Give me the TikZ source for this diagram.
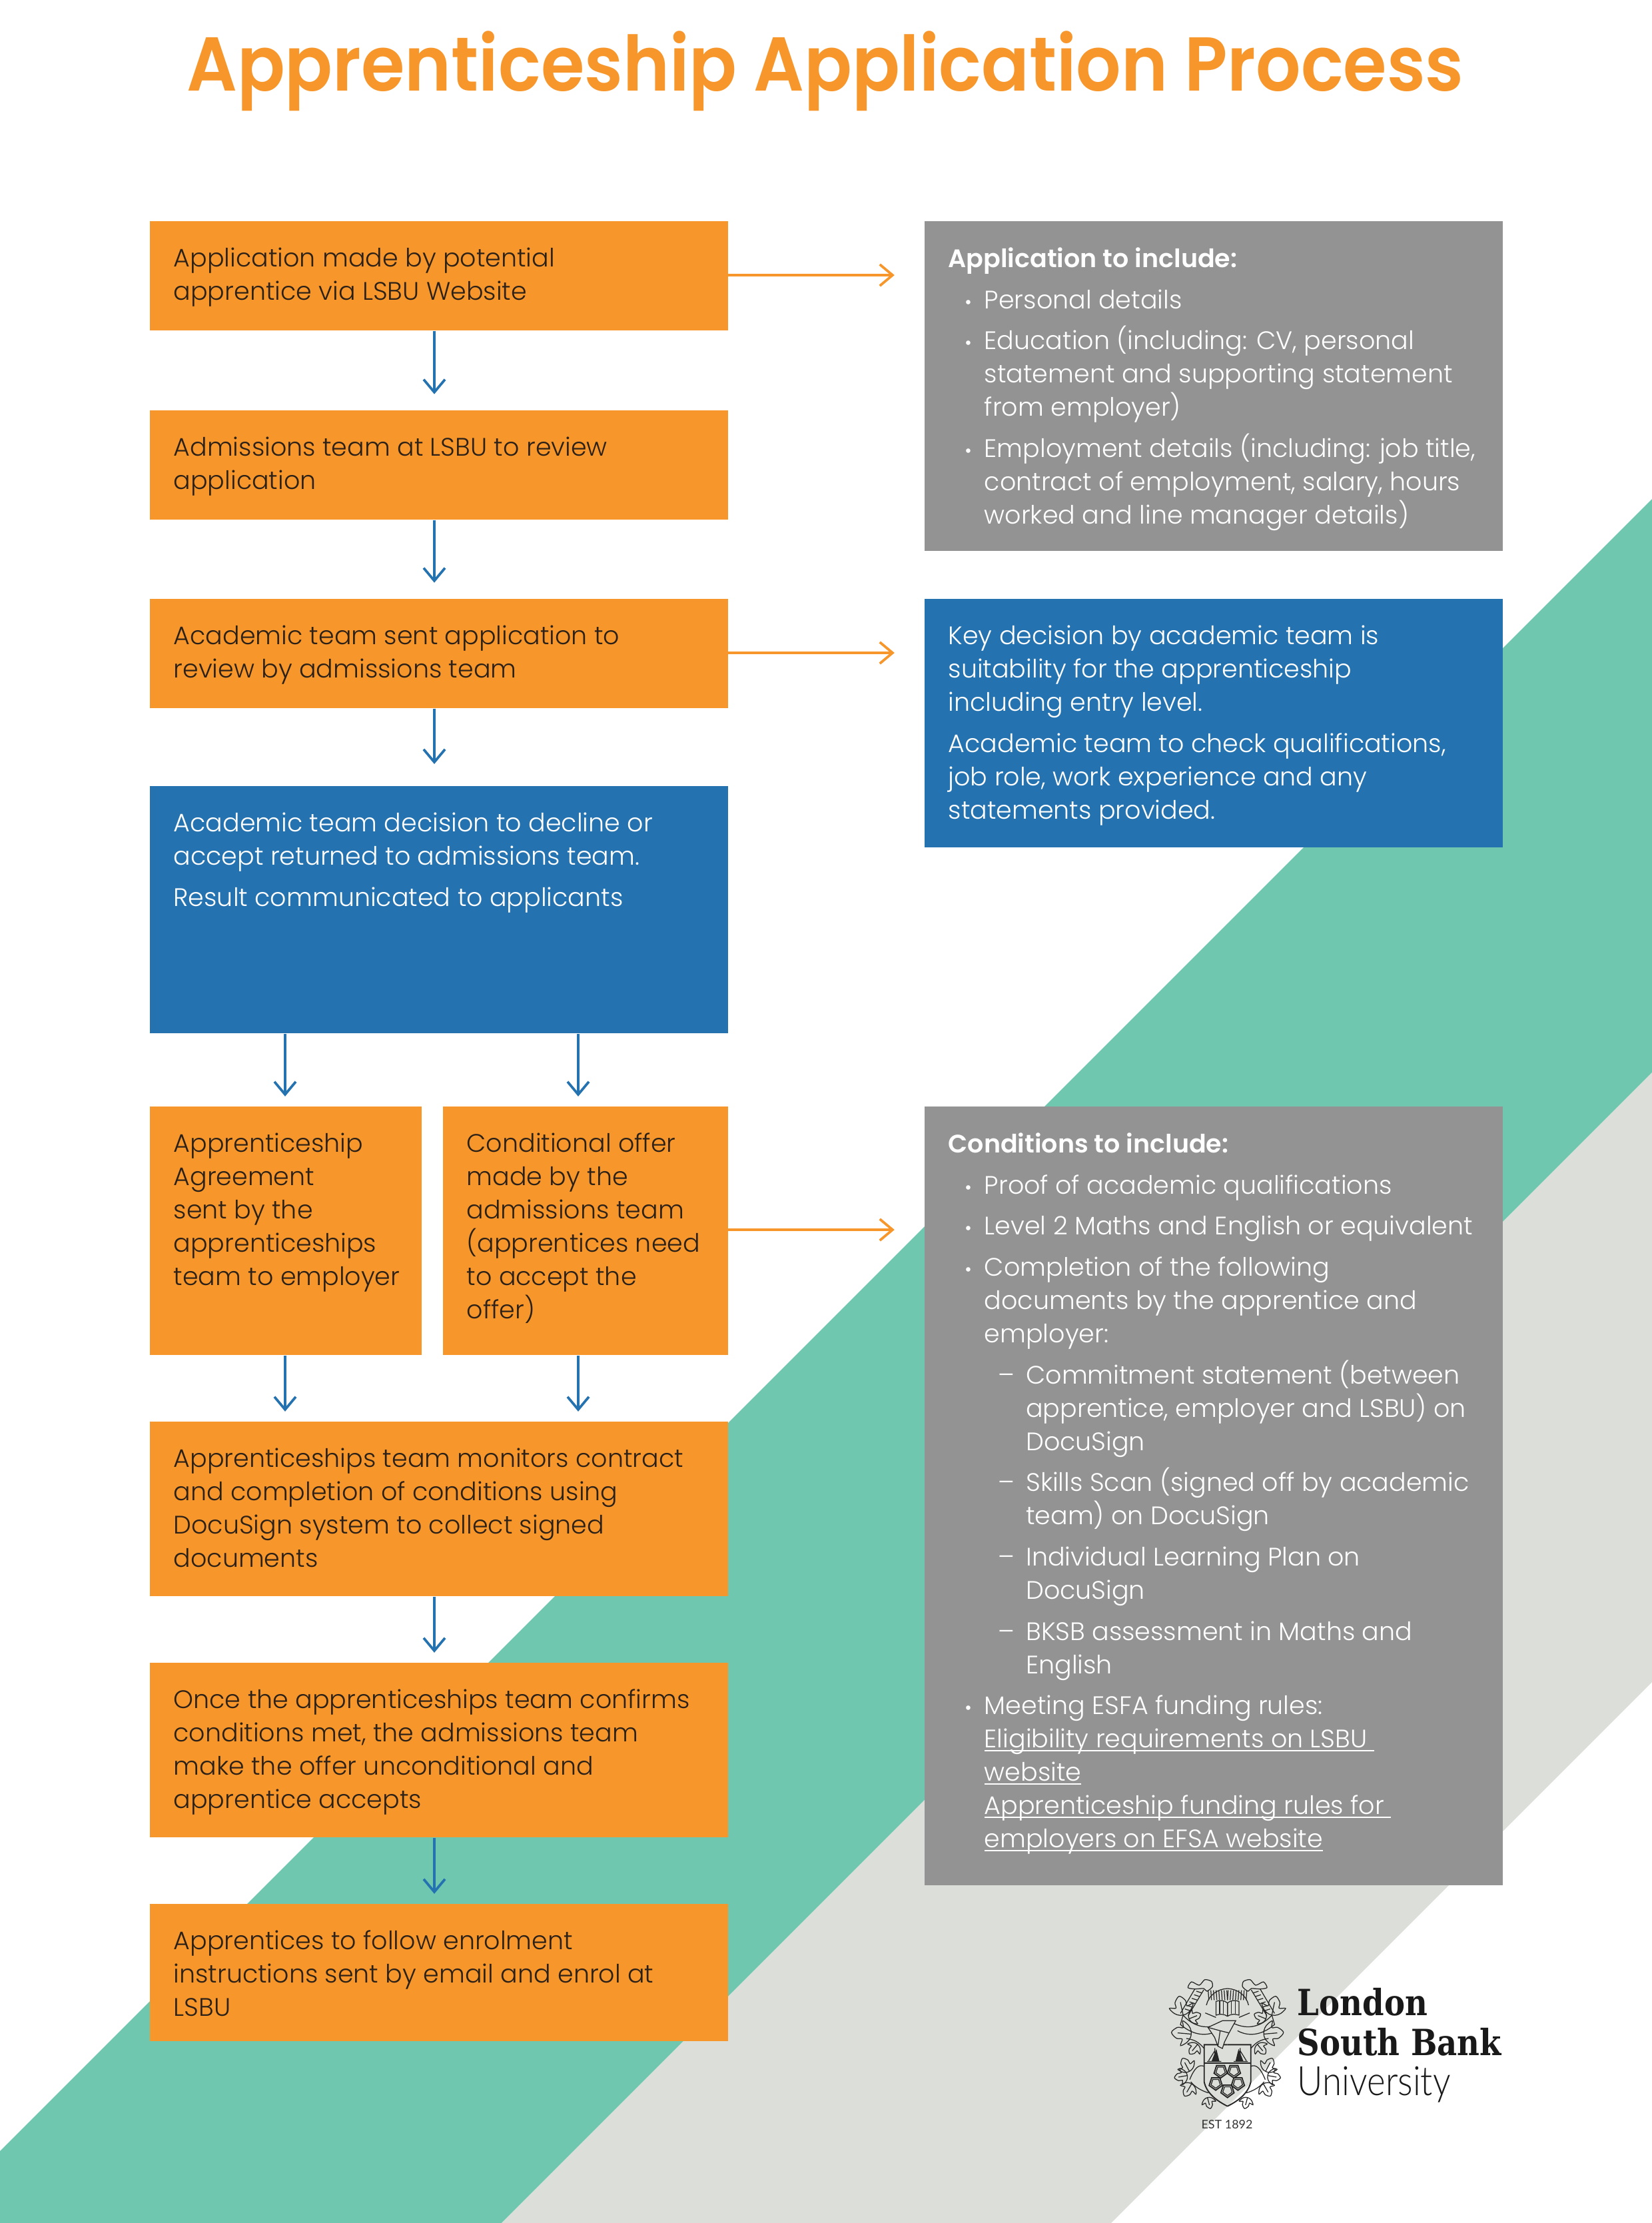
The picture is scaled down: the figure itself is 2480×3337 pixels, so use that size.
\documentclass[tikz,border=0pt]{standalone}
\usepackage{fontspec}
\setmainfont{Poppins}[UprightFont=* Light,BoldFont=* SemiBold]
\newfontfamily\titlefont{Poppins SemiBold}[FakeStretch=0.924]
\newfontfamily\logobold{DejaVu Serif}[FakeStretch=0.86]
\newfontfamily\logolight{Lato}[UprightFont=* Light,FakeStretch=0.87]
\newfontfamily\logosmall{Lato}
\usetikzlibrary{positioning,arrows.meta}

\definecolor{lsbuorange}{HTML}{F7962B}
\definecolor{lsbublue}{HTML}{2473B0}
\definecolor{lsbugrey}{HTML}{929392}
\definecolor{lsbuteal}{HTML}{6FC7B0}
\definecolor{lsbupale}{HTML}{DCDFD9}
\definecolor{lsbuink}{HTML}{2B2118}

\newcommand{\bul}{\hspace*{5.9pt}\makebox[7.1pt][l]{\scalebox{.75}{•}}}
\newcommand{\bulin}{\hspace*{13pt}}
\newcommand{\dsh}{\hspace*{18pt}\makebox[10pt][l]{--}}
\newcommand{\dshin}{\hspace*{28pt}}
\newsavebox{\ulbox}
\newcommand{\ulin}[1]{\sbox{\ulbox}{#1}\usebox{\ulbox}\llap{\rule[-1.1pt]{\wd\ulbox}{0.4pt}}}

\tikzset{
	wh/.style 2 args={minimum width=#1*0.24pt,minimum height=#2*0.24pt},
	cardbox/.style={rectangle,inner sep=0pt,anchor=north west,draw=none},
	obox/.style={cardbox,fill=lsbuorange},
	bbox/.style={cardbox,fill=lsbublue},
	gbox/.style={cardbox,fill=lsbugrey},
	txt/.style={anchor=north west,inner sep=0pt,xshift=8.6pt,yshift=-9.6pt,align=left,
		font=\fontsize{9.12}{12}\selectfont,execute at begin node=\strut},
	darktxt/.style={txt,text=lsbuink},
	whitetxt/.style={txt,text=white},
	flow/.style={draw=lsbublue,line width=0.9pt,-{Straight Barb[length=4.6pt,width=7.7pt]}},
	side/.style={draw=lsbuorange,line width=0.9pt,-{Straight Barb[length=4.6pt,width=7.7pt]}},
	logotxt/.style={anchor=base west,inner sep=0pt,text=black!90},
	crest/.style={draw=black!85,line width=0.3pt},
}

\begin{document}
\begin{tikzpicture}[x=0.24pt,y=-0.24pt]
	\useasboundingbox (0,0) rectangle (2480,3337);

	% diagonal bands
	\fill[lsbuteal] (2480,749) -- (2480,1610) -- (753,3337) -- (0,3337) -- (0,3229) -- cycle;
	\fill[lsbupale] (2480,1610) -- (2480,2525) -- (1668,3337) -- (753,3337) -- cycle;

	\node[anchor=base,text=lsbuorange,font=\fontsize{27.5}{32}\selectfont\titlefont] (title) at (1239,136) {Apprenticeship Application Process};

	% left column
	\node[obox,wh={868}{164}] (n1) at (224,331) {};
	\node[obox,wh={868}{164}] (n2) at (224,615) {};
	\node[obox,wh={868}{164}] (n3) at (224,898) {};
	\node[bbox,wh={868}{371}] (n4) at (224,1179) {};
	\node[obox,wh={408}{373}] (n5) at (224,1660) {};
	\node[obox,wh={428}{373}] (n6) at (664,1660) {};
	\node[obox,wh={868}{262}] (n7) at (224,2133) {};
	\node[obox,wh={868}{262}] (n8) at (224,2495) {};
	\node[obox,wh={868}{206}] (n9) at (224,2857) {};

	% right column
	\node[gbox,wh={868}{495}] (r1) at (1387,331) {};
	\node[bbox,wh={868}{373}] (r2) at (1387,898) {};
	\node[gbox,wh={868}{1169}] (r3) at (1387,1660) {};

	\node[darktxt] (t1) at (n1.north west) {Application made by potential\\apprentice via LSBU Website};
	\node[darktxt] (t2) at (n2.north west) {Admissions team at LSBU to review\\application};
	\node[darktxt] (t3) at (n3.north west) {Academic team sent application to\\review by admissions team};
	\node[whitetxt] (t4) at (n4.north west) {Academic team decision to decline or\\accept returned to admissions team.\\[2.8pt]Result communicated to applicants};
	\node[darktxt] (t5) at (n5.north west) {Apprenticeship\\Agreement\\sent by the\\apprenticeships\\team to employer};
	\node[darktxt] (t6) at (n6.north west) {Conditional offer\\made by the\\admissions team\\(apprentices need\\to accept the\\offer)};
	\node[darktxt] (t7) at (n7.north west) {Apprenticeships team monitors contract\\and completion of conditions using\\DocuSign system to collect signed\\documents};
	\node[darktxt] (t8) at (n8.north west) {Once the apprenticeships team confirms\\conditions met, the admissions team\\make the offer unconditional and\\apprentice accepts};
	\node[darktxt] (t9) at (n9.north west) {Apprentices to follow enrolment\\instructions sent by email and enrol at\\LSBU};

	\node[whitetxt] (s1) at (r1.north west) {\textbf{Application to include:}\\[2.8pt]
		\bul Personal details\\[2.8pt]
		\bul Education (including: CV, personal\\
		\bulin statement and supporting statement\\
		\bulin from employer)\\[2.8pt]
		\bul Employment details (including: job title,\\
		\bulin contract of employment, salary, hours\\
		\bulin worked and line manager details)};
	\node[whitetxt] (s2) at (r2.north west) {Key decision by academic team is\\suitability for the apprenticeship\\including entry level.\\[2.8pt]
		Academic team to check qualifications,\\job role, work experience and any\\statements provided.};
	\node[whitetxt] (s3) at (r3.north west) {\textbf{Conditions to include:}\\[2.8pt]
		\bul Proof of academic qualifications\\[2.8pt]
		\bul Level 2 Maths and English or equivalent\\[2.8pt]
		\bul Completion of the following\\
		\bulin documents by the apprentice and\\
		\bulin employer:\\[2.8pt]
		\dsh Commitment statement (between\\
		\dshin apprentice, employer and LSBU) on\\
		\dshin DocuSign\\[2.8pt]
		\dsh Skills Scan (signed off by academic\\
		\dshin team) on DocuSign\\[2.8pt]
		\dsh Individual Learning Plan on\\
		\dshin DocuSign\\[2.8pt]
		\dsh BKSB assessment in Maths and\\
		\dshin English\\[2.8pt]
		\bul Meeting ESFA funding rules:\\
		\bulin\ulin{Eligibility requirements on LSBU\ }\\
		\bulin\ulin{website}\\
		\bulin\ulin{Apprenticeship funding rules for\ }\\
		\bulin\ulin{employers on EFSA website}};

	% arrows, all at fixed columns
	\coordinate (mid) at (652,0);
	\coordinate (lft) at (428,0);
	\coordinate (rgt) at (868,0);
	\draw[flow,shorten >=5.6pt] (n1.south -| mid) -- (n2.north -| mid);
	\draw[flow,shorten >=5.6pt] (n2.south -| mid) -- (n3.north -| mid);
	\draw[flow,shorten >=7.7pt] (n3.south -| mid) -- (n4.north -| mid);
	\draw[flow,shorten >=3.4pt] (n4.south -| lft) -- (n5.north -| lft);
	\draw[flow,shorten >=3.4pt] (n4.south -| rgt) -- (n6.north -| rgt);
	\draw[flow,shorten >=3.4pt] (n5.south -| lft) -- (n7.north -| lft);
	\draw[flow,shorten >=3.4pt] (n6.south -| rgt) -- (n7.north -| rgt);
	\draw[flow,shorten >=3.4pt] (n7.south -| mid) -- (n8.north -| mid);
	\draw[flow,shorten >=3.4pt] (n8.south -| mid) -- (n9.north -| mid);
	\coordinate (a1) at (1092,413);
	\coordinate (a2) at (1092,980);
	\coordinate (a3) at (1092,1846);
	\draw[side,shorten >=10.6pt] (a1) -- (r1.west |- a1);
	\draw[side,shorten >=10.6pt] (a2) -- (r2.west |- a2);
	\draw[side,shorten >=10.6pt] (a3) -- (r3.west |- a3);

	% logo
	\node[logotxt,font=\fontsize{13}{13}\selectfont\logobold\bfseries] (lg1) at (1947,3025) {London};
	\node[logotxt,font=\fontsize{13}{13}\selectfont\logobold\bfseries] (lg2) at (1947,3085) {South Bank};
	\node[logotxt,font=\fontsize{14.6}{13}\selectfont\logolight] (lg3) at (1947,3145) {University};
	\node[anchor=base,inner sep=0pt,font=\fontsize{4.3}{5}\selectfont\logosmall,text=black!80] (lg4) at (1842,3195) {EST 1892};

	% crest, mirrored about the shield axis
	\begin{scope}[shift={(1842.7,2965)},x=0.08pt,y=-0.08pt]
		\foreach \s in {1,-1} {
			\begin{scope}[xscale=\s]
				% shield
				\draw[crest,line width=0.45pt] (0,313) -- (105,313) -- (105,480) .. controls (95,530) and (50,565) .. (0,590);
				\draw[crest,line width=0.45pt] (0,397) -- (105,397);
				% ship
				\fill[black!85] (50,332) -- (36,388) -- (72,388) -- cycle;
				\draw[crest] (28,388) -- (92,388) (57,328) -- (57,388) (57,340) -- (85,385);
				% book and crown
				\draw[crest] (0,185) -- (0,125) .. controls (15,112) and (35,112) .. (52,118) -- (52,180) .. controls (35,174) and (15,174) .. (0,185);
				\draw[crest] (18,118) -- (18,174) (35,115) -- (35,174);
				\draw[crest] (0,60) .. controls (45,62) and (85,90) .. (95,135);
				\foreach \k in {0,12,...,84} \draw[crest] (\k,112) -- (\k+3,68);
				\draw[crest] (52,190) -- (100,170);
				% ribbon under the crest
				\draw[crest] (30,218) .. controls (90,245) and (150,235) .. (200,180) -- (212,222) .. controls (150,275) and (90,275) .. (45,250);
				% scroll and stem
				\draw[crest] plot[smooth cycle,tension=.45] coordinates {(72,28)(102,20)(127,45)(162,30)(178,56)(147,62)(107,60)(92,72)(68,52)};
				\draw[crest] (107,66) -- (177,182);
				\draw[crest] (147,62) -- (212,172);
				\foreach \k in {0,8,...,40} \draw[crest] (115+\k*1.3,80+\k*2) -- (140+\k*1.3,72+\k*2);
				% stems along the shield
				\draw[crest] (105,330) .. controls (130,300) and (150,290) .. (185,285);
				\draw[crest] (105,410) .. controls (130,400) and (150,420) .. (170,470);
				\draw[crest] (85,530) .. controls (120,520) and (150,500) .. (165,480);
				% foliage
				\foreach \lx/\ly/\lr/\ls in {200/178/-12/1.7,172/196/68/1.1,165/265/-85/1.75,135/312/-140/1.1,172/432/-28/1.3,182/452/-100/1.15,162/490/-150/1.25,90/552/-195/1.0} {
					\draw[crest,shift={(\lx,\ly)},rotate=\lr,scale=\ls] plot[smooth cycle,tension=.55] coordinates {(-8,0)(-22,-8)(-32,-24)(-15,-21)(-14,-36)(0,-50)(14,-36)(15,-21)(32,-24)(22,-8)(8,0)};
					\draw[crest,shift={(\lx,\ly)},rotate=\lr,scale=\ls] (0,0) -- (0,-34);
				}
			\end{scope}
		}
		% helmet
		\draw[crest,fill=lsbupale] (-88,235) -- (-23,205) -- (37,205) -- (7,260) -- (-13,300) -- (-23,330) -- (-43,320) -- (-58,280) -- cycle;
		\draw[crest] (-88,235) -- (-33,250) -- (7,260) (-33,250) -- (-43,320);
		% pentagons on the shield
		\foreach \px/\py in {-31/432,29/432,-53/487,47/487,0/520} {
			\draw[crest,line width=0.45pt,shift={(\px,\py)}] (90:31) -- (162:31) -- (234:31) -- (306:31) -- (18:31) -- cycle;
			\draw[crest,shift={(\px,\py)}] (90:22) -- (162:22) -- (234:22) -- (306:22) -- (18:22) -- cycle;
		}
	\end{scope}
\end{tikzpicture}
\end{document}
